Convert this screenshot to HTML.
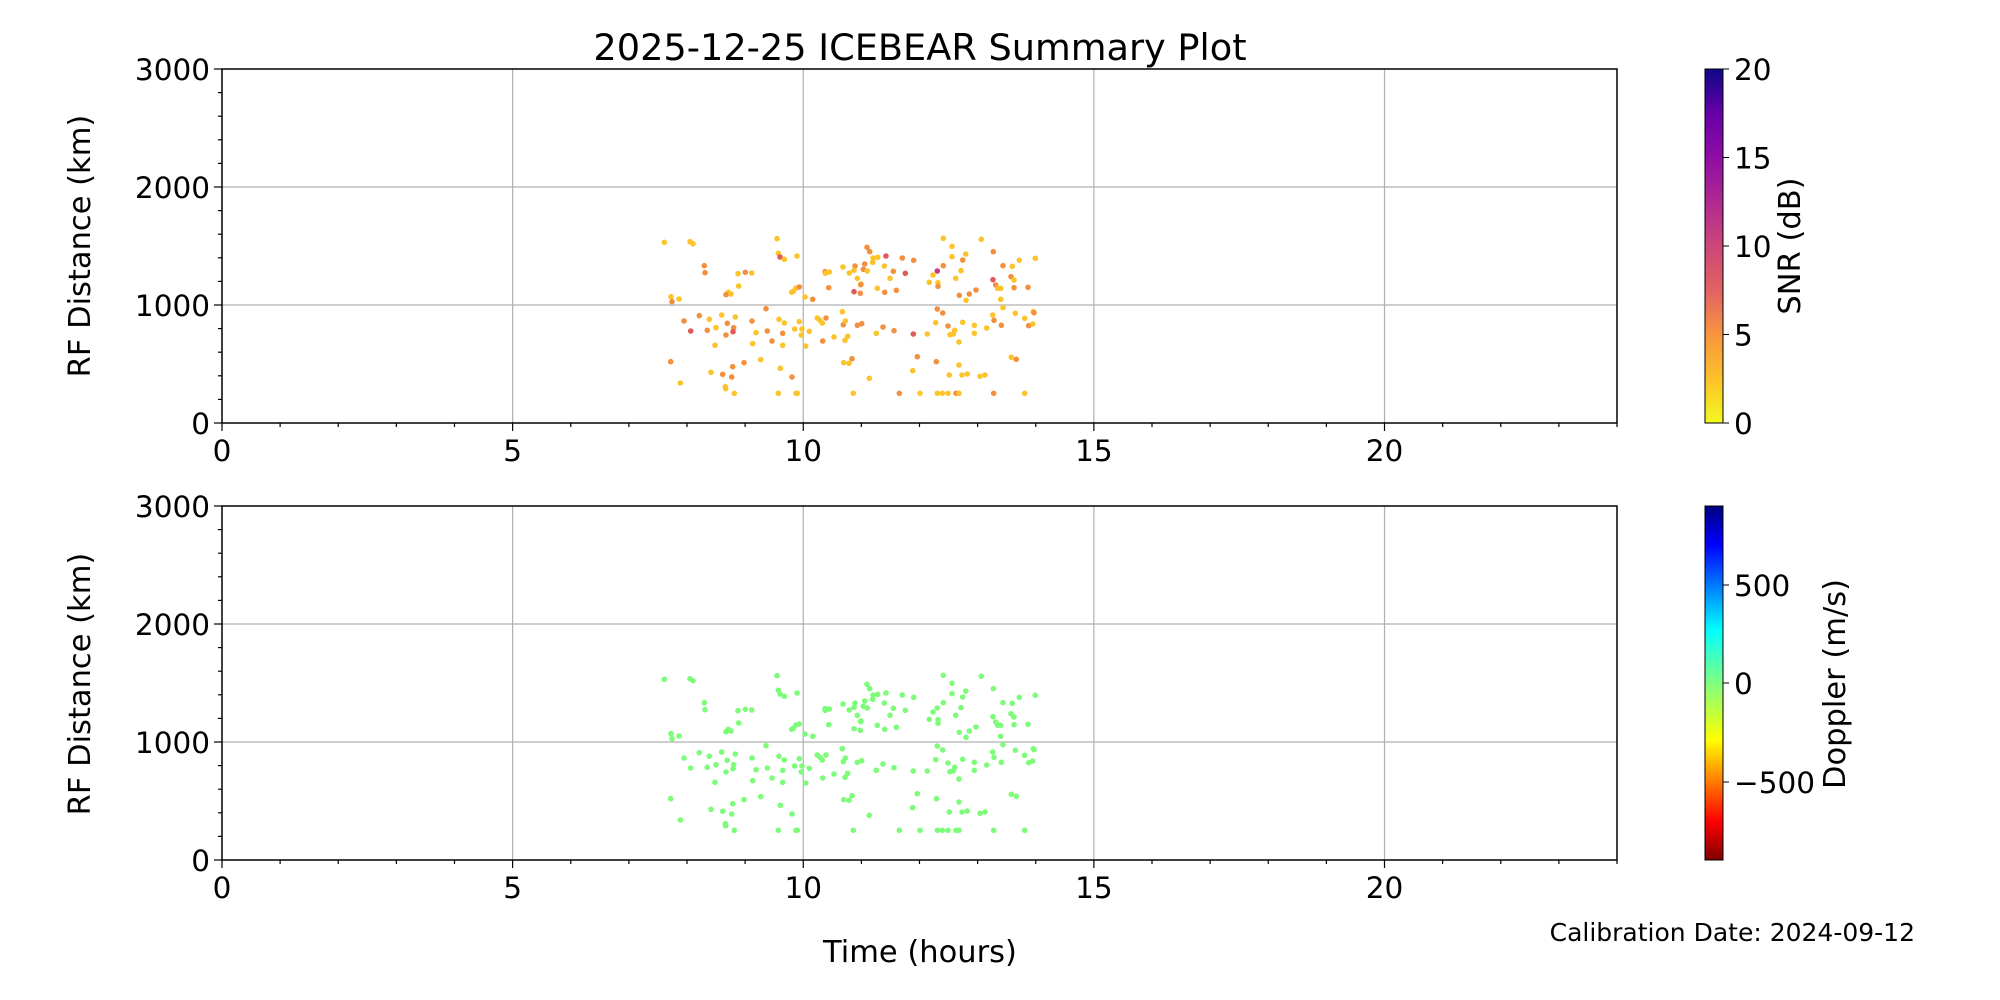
<!DOCTYPE html>
<html><head><meta charset="utf-8"><style>
html,body{margin:0;padding:0;background:#fff;}
svg{display:block;font-family:"DejaVu Sans","Liberation Sans",sans-serif;}
</style></head><body>
<svg id="s" width="2000" height="1000" viewBox="0 0 2000 1000" xmlns="http://www.w3.org/2000/svg">
<defs>
<linearGradient id="plasma" x1="0" y1="1" x2="0" y2="0">
<stop offset="0" stop-color="#f0f921"/><stop offset="0.12" stop-color="#fdc328"/><stop offset="0.25" stop-color="#f89540"/><stop offset="0.37" stop-color="#e16462"/><stop offset="0.5" stop-color="#cc4778"/><stop offset="0.62" stop-color="#b12a90"/><stop offset="0.75" stop-color="#8f0da4"/><stop offset="0.87" stop-color="#6a00a8"/><stop offset="1" stop-color="#0d0887"/>
</linearGradient>
<linearGradient id="jet" x1="0" y1="1" x2="0" y2="0">
<stop offset="0" stop-color="#800000"/><stop offset="0.11" stop-color="#ff0000"/><stop offset="0.34" stop-color="#ffff00"/><stop offset="0.5" stop-color="#80ff80"/><stop offset="0.65" stop-color="#00ffff"/><stop offset="0.89" stop-color="#0000ff"/><stop offset="1" stop-color="#000080"/>
</linearGradient>
</defs>
<g id="g"></g>
<text x="920" y="60" font-size="36.7" text-anchor="middle">2025-12-25 ICEBEAR Summary Plot</text>
<text transform="translate(90,246) rotate(-90)" font-size="30.5" text-anchor="middle">RF Distance (km)</text>
<text transform="translate(90,684) rotate(-90)" font-size="30.5" text-anchor="middle">RF Distance (km)</text>
<text x="920" y="962" font-size="30.5" text-anchor="middle">Time (hours)</text>
<text x="1915" y="941" font-size="25" text-anchor="end">Calibration Date: 2024-09-12</text>
<rect x="1705" y="69" width="18" height="354" fill="url(#plasma)" stroke="#000" stroke-width="1"/>
<rect x="1705" y="506" width="18" height="354" fill="url(#jet)" stroke="#000" stroke-width="1"/>
<text transform="translate(1800,246) rotate(-90)" font-size="30.5" text-anchor="middle">SNR (dB)</text>
<text transform="translate(1845,684) rotate(-90)" font-size="30.5" text-anchor="middle">Doppler (m/s)</text>
</svg>
<script>
var g=document.getElementById('g'),h='';
var X0=222,X1=1617,W=X1-X0;
function px(t){return X0+t/24*W;}
[[69,423],[506,860]].forEach(function(a){
 var T=a[0],B=a[1],H=B-T;
 [5,10,15,20].forEach(function(t){h+='<line x1="'+px(t)+'" y1="'+T+'" x2="'+px(t)+'" y2="'+B+'" stroke="#b0b0b0" stroke-width="1.2"/>';});
 [1000,2000].forEach(function(v){var y=B-v/3000*H;h+='<line x1="'+X0+'" y1="'+y+'" x2="'+X1+'" y2="'+y+'" stroke="#b0b0b0" stroke-width="1.2"/>';});
 h+='<rect x="'+X0+'" y="'+T+'" width="'+W+'" height="'+H+'" fill="none" stroke="#000" stroke-width="1.5"/>';
 for(var t=0;t<=24;t++){var L=(t%5==0)?8:4;h+='<line x1="'+px(t)+'" y1="'+B+'" x2="'+px(t)+'" y2="'+(B+L)+'" stroke="#000" stroke-width="1.2"/>';
  if(t%5==0)h+='<text x="'+px(t)+'" y="'+(B+38)+'" font-size="29.5" text-anchor="middle">'+t+'</text>';}
 for(var v=0;v<=3000;v+=200){var y=B-v/3000*H,L=(v%1000==0)?8:4;h+='<line x1="'+(X0-L)+'" y1="'+y+'" x2="'+X0+'" y2="'+y+'" stroke="#000" stroke-width="1.2"/>';
  if(v%1000==0)h+='<text x="210" y="'+(y+11)+'" font-size="29.5" text-anchor="end">'+v+'</text>';}
});
[[0,423],[5,334.5],[10,246],[15,157.5],[20,69]].forEach(function(p){h+='<line x1="1723" y1="'+p[1]+'" x2="1729" y2="'+p[1]+'" stroke="#000"/><text x="1734" y="'+(p[1]+11)+'" font-size="29.5">'+p[0]+'</text>';});
[["500",585],["0",683],["\u2212500",782]].forEach(function(p){h+='<line x1="1723" y1="'+p[1]+'" x2="1729" y2="'+p[1]+'" stroke="#000"/><text x="1734" y="'+(p[1]+11)+'" font-size="29.5">'+p[0]+'</text>';});
var P="193,127,y 270,125,y 279,131,y 531,116,y 535,160,y 540,171,r 553,178,y 591,168,y 313,197,o 315,218,o 414,221,y 436,217,o 455,219,y 416,258,y 385,277,y 378,284,o 393,282,y 213,290,y 237,297,y 216,305,o 575,277,y 580,274,y 588,264,y 598,261,o 615,291,y 638,298,o 801,142,o 809,155,o 819,174,y 833,172,y 858,168,r 907,174,o 941,181,o 1030,115,y 1056,139,y 1056,170,y 1144,118,y 1180,155,o 1097,162,y 1088,180,o 1306,175,y 1258,181,y 1209,197,o 1237,199,y 1030,197,o 1012,213,m 999,225,y 1083,212,y 1067,235,y 988,247,y 1014,248,y 1014,259,o 1179,239,r 1187,255,o 1193,265,y 1202,265,y 1233,230,o 1242,240,y 1242,263,o 1284,262,o 1202,298,y 1128,270,o 1108,282,o 1098,301,y 1078,286,o 765,198,o 794,192,o 790,208,o 802,213,y 762,211,y 748,219,y 729,201,y 675,215,o 688,216,y 676,220,y 686,263,o 772,235,y 783,252,y 782,254,o 762,275,r 781,280,o 832,265,y 854,277,o 870,235,y 880,214,o 916,220,r 889,271,o 853,198,y 818,187,y 498,326,o 252,363,o 298,347,o 328,358,y 365,345,y 406,351,y 456,363,o 272,393,r 322,391,o 348,383,y 378,405,o 382,370,o 401,383,o 399,395,r 345,436,y 468,398,y 502,393,o 458,431,y 516,423,o 548,400,o 548,436,y 537,358,y 553,369,y 584,387,y 598,365,y 606,387,y 604,405,y 628,394,y 617,438,y 652,354,y 660,361,y 667,369,y 678,354,o 727,335,y 730,374,o 736,363,y 702,411,y 668,423,o 743,409,y 735,421,y 772,376,o 785,371,o 849,381,o 829,400,y 882,392,o 940,402,r 982,402,y 1012,327,o 1028,339,o 1007,368,y 1044,378,o 1050,404,y 1060,402,y 1064,391,y 1077,426,y 1088,367,y 1123,376,y 1123,400,y 1160,384,y 1178,345,y 1182,361,o 1204,376,o 1209,323,y 1246,340,y 1274,355,y 1286,377,o 1298,372,y 1300,335,y 1302,338,o 212,485,o 241,549,y 333,517,y 368,523,o 376,560,y 377,566,y 398,500,o 395,531,o 432,488,o 482,479,y 541,505,y 576,531,o 403,580,y 535,580,y 588,580,y 592,580,y 731,488,y 747,490,y 756,476,o 760,580,y 808,535,y 898,580,o 938,512,y 952,470,o 960,580,y 1009,485,o 1012,580,y 1027,580,y 1044,580,y 1068,580,o 1077,580,y 1048,525,y 1077,495,y 1086,525,y 1102,522,y 1140,529,y 1155,525,y 1181,580,o 1274,580,y 1234,472,y 1249,478,o";
var C={y:"#fcc42a",o:"#f3903f",r:"#df5a58",m:"#c73b7f"};
P.split(" ").forEach(function(s){var a=s.split(","),x=600+a[0]/3,y=200+a[1]/3;
 h+='<circle cx="'+x.toFixed(1)+'" cy="'+y.toFixed(1)+'" r="2.8" fill="'+C[a[2]]+'"/>';
 h+='<circle cx="'+x.toFixed(1)+'" cy="'+(y+437).toFixed(1)+'" r="2.8" fill="#7dfc7a"/>';});
g.innerHTML=h;
</script>
</body></html>
